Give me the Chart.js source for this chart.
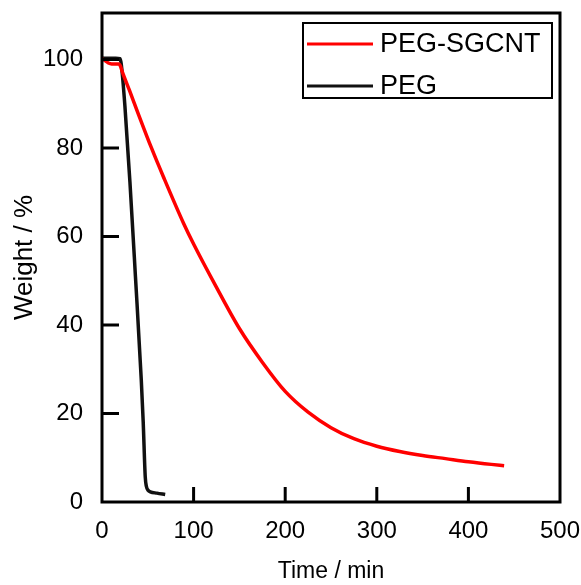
<!DOCTYPE html>
<html>
<head>
<meta charset="utf-8">
<script src="https://cdn.jsdelivr.net/npm/chart.js@4"></script>
<style>
html,body{margin:0;padding:0;background:#fff;}
#wrap{width:581px;height:585px;position:relative;}
</style>
</head>
<body>
<div id="wrap"><canvas id="c" width="581" height="585"></canvas></div>
<script>
// ---- data ----
const seriesNames = ["PEG-SGCNT", "PEG"];
const sgcntTime   = [0, 3, 7, 10.5, 18.5, 20, 22, 30, 40, 54, 67, 89, 100, 125, 150, 175, 200, 225, 250, 275, 300, 325, 350, 375, 400, 425, 439];
const sgcntWeight = [100.2, 99.8, 99.2, 99.0, 99.0, 98.6, 97.3, 93, 87.5, 80, 73.5, 63, 58.3, 48.5, 39.2, 31.6, 25, 20.3, 16.8, 14.3, 12.6, 11.4, 10.5, 9.8, 9.1, 8.5, 8.2];
const pegTime     = [0, 5, 10, 15, 19.6, 21, 25, 30.5, 36.5, 42.9, 45, 47.2, 48.5, 50.5, 52.7, 60, 69];
const pegWeight   = [100.3, 100.3, 100.3, 100.3, 100.2, 99, 89.5, 72.3, 51, 27.5, 18, 5.7, 3.5, 2.6, 2.3, 2.0, 1.7];
const xTicks = [0, 100, 200, 300, 400, 500];
const yTicks = [0, 20, 40, 60, 80, 100];

const toXY = (xs, ys) => xs.map((x, i) => ({x: x, y: ys[i]}));
const FONT = "'Liberation Sans', Arial, sans-serif";

const zeroPad = s => { s.paddingTop = 0; s.paddingBottom = 0; s.paddingLeft = 0; s.paddingRight = 0; };

const framePlugin = {
  id: 'frame',
  afterDatasetsDraw(chart) {
    const {ctx, chartArea: a, scales} = chart;
    ctx.save();
    ctx.strokeStyle = '#000';
    ctx.lineWidth = 3;
    ctx.strokeRect(a.left, a.top, a.right - a.left, a.bottom - a.top);
    ctx.beginPath();
    xTicks.forEach(v => {
      if (v === 0 || v === 500) return;
      const px = scales.x.getPixelForValue(v);
      ctx.moveTo(px, a.bottom); ctx.lineTo(px, a.bottom - 15);
    });
    yTicks.forEach(v => {
      if (v === 0) return;
      const py = scales.y.getPixelForValue(v);
      ctx.moveTo(a.left, py); ctx.lineTo(a.left + 17, py);
    });
    ctx.stroke();
    ctx.restore();
  },
  afterDraw(chart) {
    const {ctx} = chart;
    const ds = chart.data.datasets;
    ctx.save();
    ctx.fillStyle = '#fff';
    ctx.fillRect(303, 23, 249, 75);
    ctx.strokeStyle = '#000';
    ctx.lineWidth = 2;
    ctx.strokeRect(303, 23, 249, 75);
    const rows = [44, 86];
    ds.forEach((d, i) => {
      ctx.strokeStyle = d.borderColor;
      ctx.lineWidth = 3;
      ctx.beginPath();
      ctx.moveTo(307, rows[i]); ctx.lineTo(373, rows[i]);
      ctx.stroke();
      ctx.fillStyle = '#000';
      ctx.font = '27px ' + FONT;
      ctx.textBaseline = 'middle';
      ctx.textAlign = 'left';
      ctx.fillText(d.label, 380, rows[i] + 1);
    });
    ctx.restore();
  }
};

new Chart(document.getElementById('c'), {
  type: 'scatter',
  data: {
    datasets: [
      {label: seriesNames[0], data: toXY(sgcntTime, sgcntWeight), borderColor: '#ff0000', backgroundColor: '#ff0000',
       showLine: true, pointRadius: 0, borderWidth: 3.5, cubicInterpolationMode: 'monotone'},
      {label: seriesNames[1], data: toXY(pegTime, pegWeight), borderColor: '#111111', backgroundColor: '#111111',
       showLine: true, pointRadius: 0, borderWidth: 3.5, cubicInterpolationMode: 'monotone'}
    ]
  },
  options: {
    responsive: false,
    animation: false,
    devicePixelRatio: 1,
    layout: {padding: {left: 0, top: 13, right: 21, bottom: 0}},
    plugins: {legend: {display: false}, tooltip: {enabled: false}},
    scales: {
      x: {
        type: 'linear', min: 0, max: 500,
        afterFit: s => { s.height = 83; zeroPad(s); },
        afterBuildTicks: s => { s.ticks = xTicks.map(v => ({value: v})); },
        grid: {display: false, drawTicks: false},
        border: {display: false},
        ticks: {color: '#000', font: {family: FONT, size: 24}, padding: 15, maxRotation: 0},
        title: {display: true, text: 'Time / min', color: '#000', font: {family: FONT, size: 23}, padding: {top: 0, bottom: 0}}
      },
      y: {
        type: 'linear', min: 0, max: 110.5,
        afterFit: s => { s.width = 102; zeroPad(s); },
        afterBuildTicks: s => { s.ticks = yTicks.map(v => ({value: v})); },
        grid: {display: false, drawTicks: false},
        border: {display: false},
        ticks: {color: '#000', font: {family: FONT, size: 24}, padding: 19},
        title: {display: true, text: 'Weight / %', color: '#000', font: {family: FONT, size: 26}, padding: {top: 9, bottom: 0}}
      }
    }
  },
  plugins: [framePlugin]
});
</script>
</body>
</html>
